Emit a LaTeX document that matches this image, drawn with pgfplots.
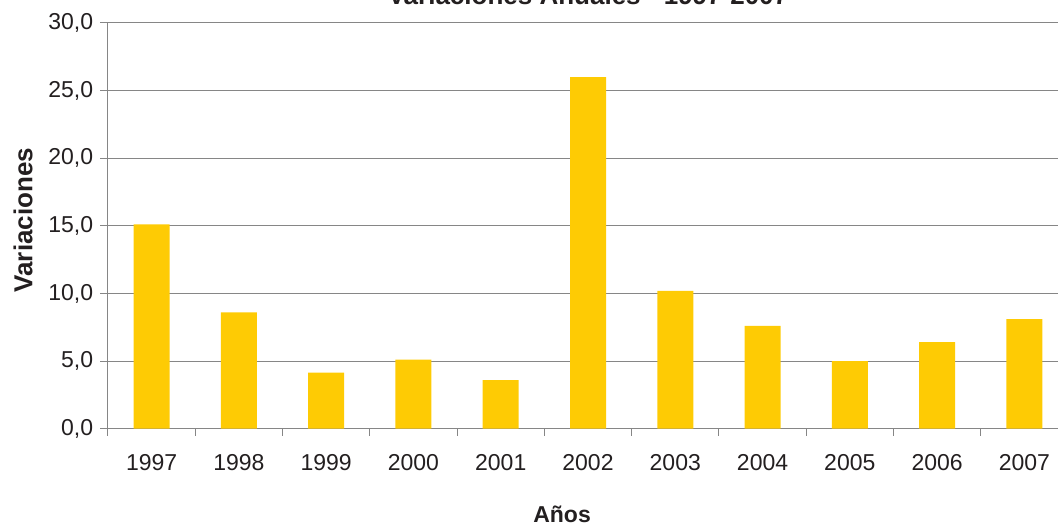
\documentclass[border=0pt]{standalone}
\usepackage{pgfplots}
\pgfplotsset{compat=1.18}
\usepackage{fontspec}
\setmainfont{Liberation Sans}
\definecolor{barra}{RGB}{254,203,4}
\definecolor{gris}{RGB}{134,134,134}
\definecolor{texto}{RGB}{35,31,32}

\begin{document}
\begin{tikzpicture}
% the reference is cropped at the top and on the right
\path[use as bounding box, clip] (0,0) rectangle (1058pt,526pt);
\begin{axis}[
    at={(108pt,97.3pt)}, anchor=south west,
    scale only axis, width=960pt, height=405.7pt,
    ybar, bar width=36pt,
    xmin=-0.5, xmax=10.5, ymin=0, ymax=30,
    axis x line*=bottom, axis y line*=left,
    axis line style={gris, line width=1pt},
    tick align=outside,
    major tick length=8pt, minor tick length=7pt,
    tick style={gris, line width=1pt},
    major x tick style={draw=none},
    xtick={0,...,10},
    xticklabels={1997,1998,1999,2000,2001,2002,2003,2004,2005,2006,2007},
    minor xtick={-0.5,0.5,...,9.5},
    ytick={0,5,...,30},
    ymajorgrids, grid style={gris, line width=1pt},
    /pgf/number format/fixed,
    /pgf/number format/fixed zerofill,
    /pgf/number format/precision=1,
    /pgf/number format/use comma,
    /pgf/number format/assume math mode=true,
    ticklabel style={font=\fontsize{23}{27}\selectfont, text=texto},
    xticklabel style={yshift=-14.2pt},
    yticklabel style={xshift=-3.3pt},
    title={Variaciones Anuales - 1997-2007},
    title style={at={(axis description cs:0.5,1.032)}, anchor=base,
        font=\fontsize{26}{30}\selectfont\bfseries, text=texto},
    xlabel={Años},
    xlabel style={at={(axis description cs:0.473,-0.210)}, anchor=center,
        font=\fontsize{23}{27}\selectfont\bfseries, text=texto},
    ylabel={Variaciones},
    ylabel style={at={(axis description cs:-0.0885,0.514)}, anchor=center,
        rotate=0, font=\fontsize{26}{30}\selectfont\bfseries, text=texto},
]
\addplot[fill=barra, draw=none] coordinates {
    (0,15.1) (1,8.6) (2,4.15) (3,5.1) (4,3.6) (5,26.0)
    (6,10.2) (7,7.6) (8,5.0) (9,6.4) (10,8.1)
};
\end{axis}
\end{tikzpicture}
\end{document}
